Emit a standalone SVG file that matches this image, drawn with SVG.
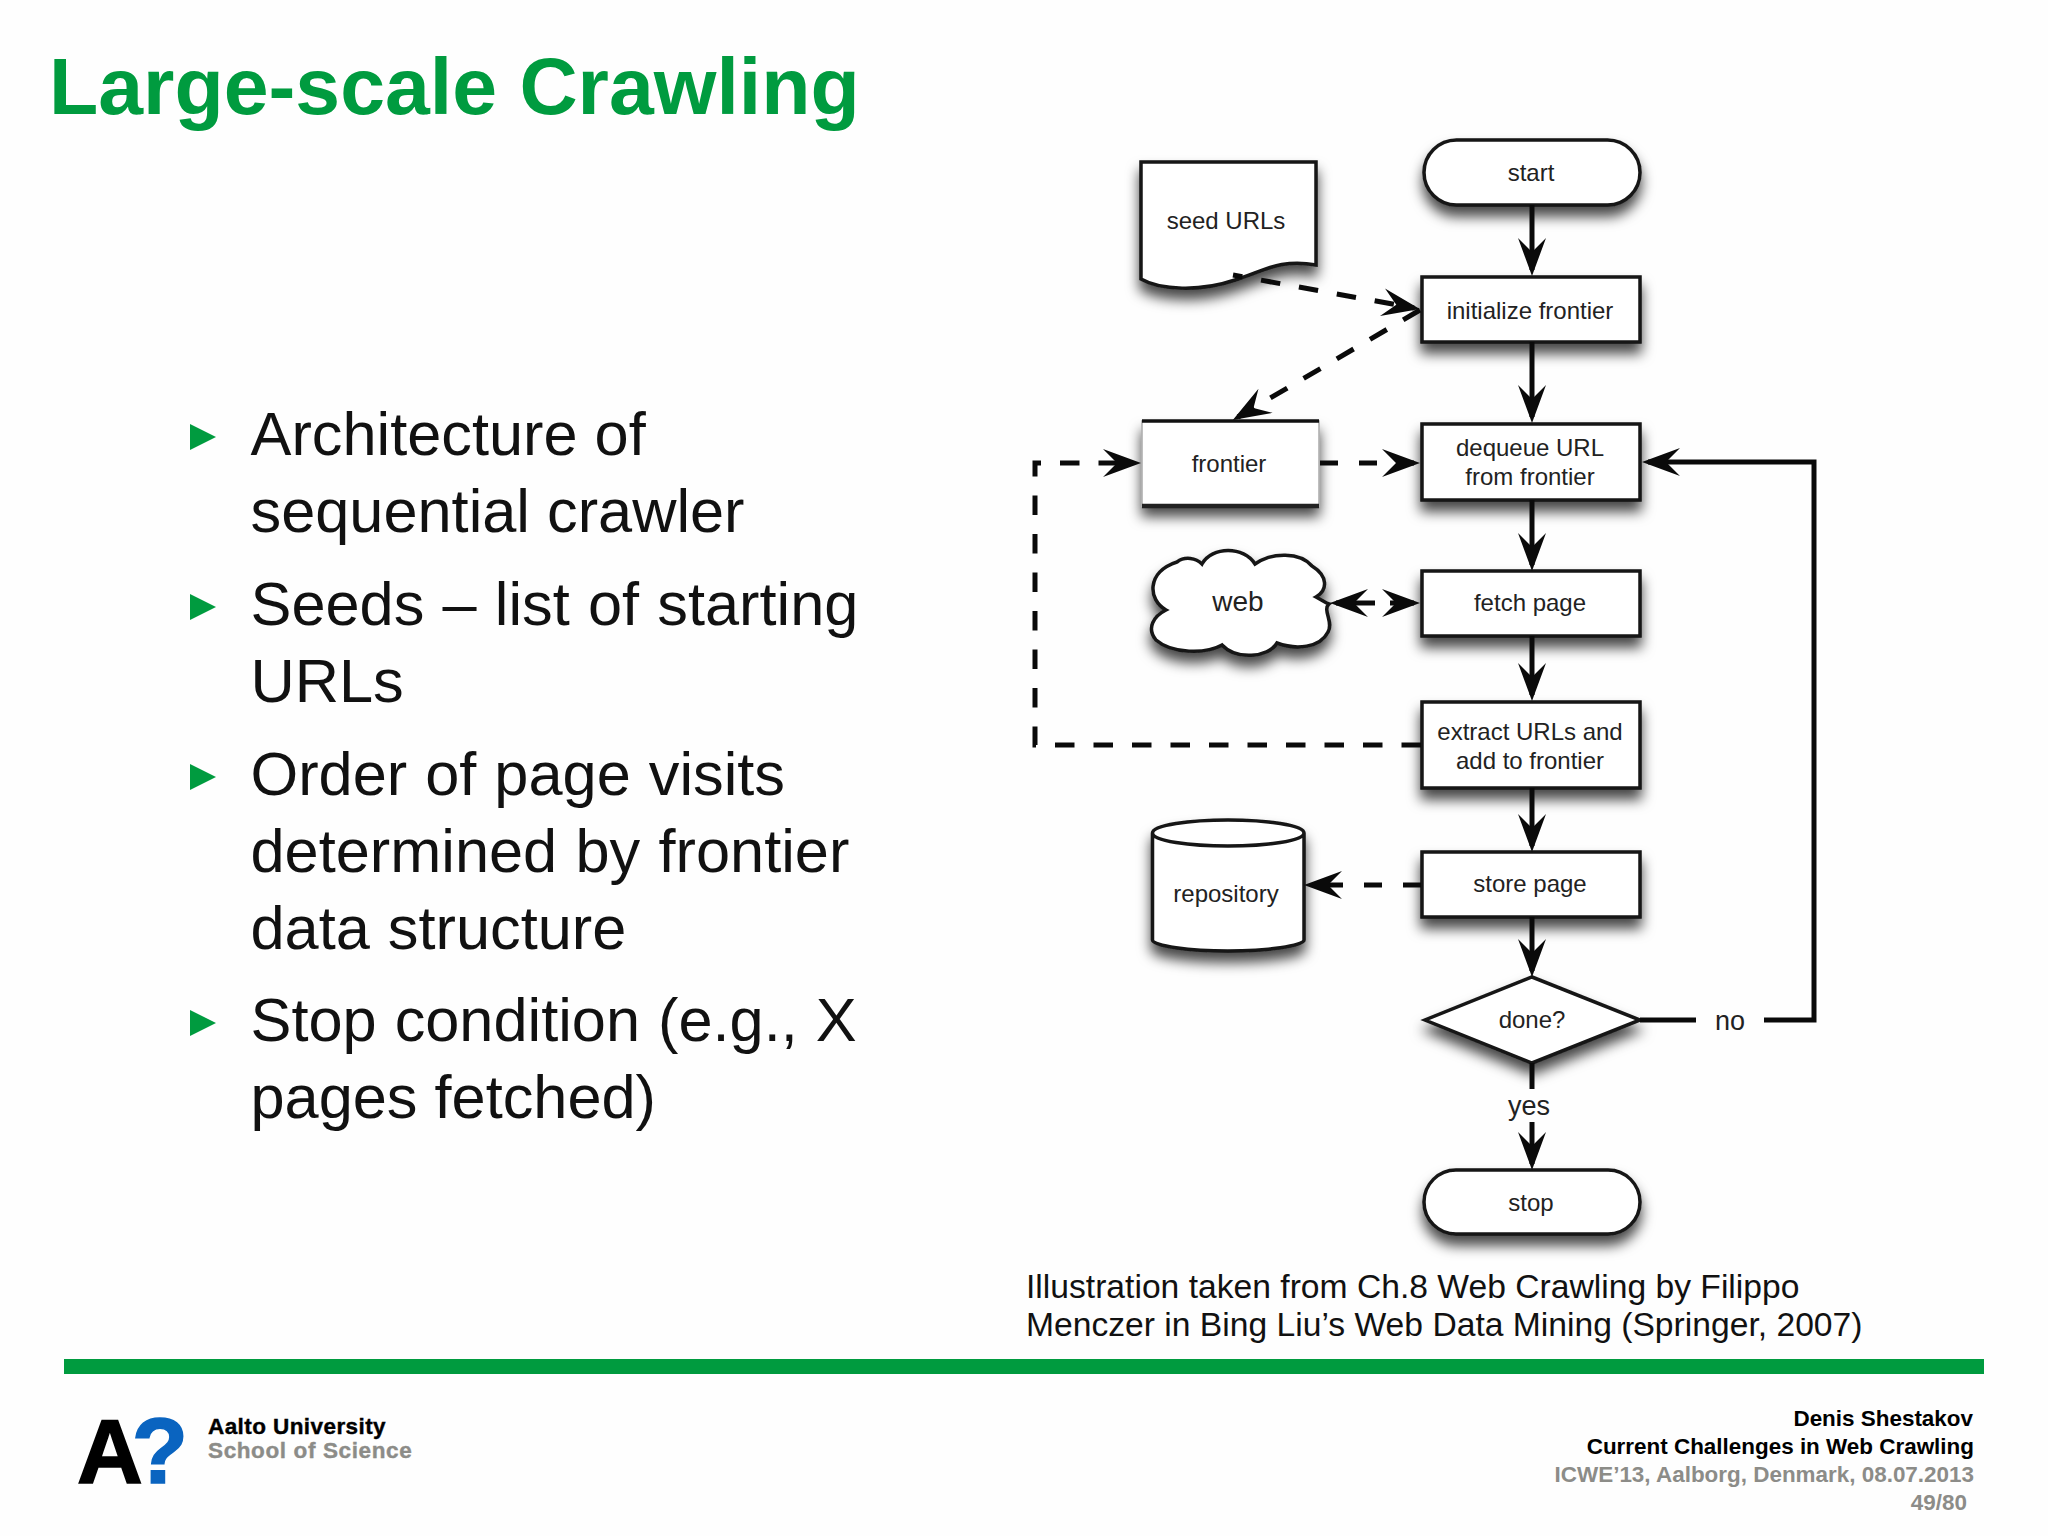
<svg xmlns="http://www.w3.org/2000/svg" width="2048" height="1536" viewBox="0 0 2048 1536">
<style>
text{font-family:"Liberation Sans",Arial,sans-serif}
.title{font-size:80.6px;font-weight:700;fill:#009b3f}
.bul{font-size:61.3px;fill:#111}
.cap{font-size:33.65px;fill:#111}
.nt{font-size:24px;fill:#222;text-anchor:middle}
.ft{font-size:22.45px;font-weight:700;text-anchor:end;fill:#000}
.gr{fill:#8c8c88}
.s{fill:#fff;stroke:#161616;stroke-width:3.5;filter:url(#sh)}
.c{fill:none;stroke:#0a0a0a;stroke-width:5}
.a{marker-end:url(#ah)}
.d1{stroke-dasharray:19.5 19}
.d2{stroke-dasharray:18 21}
.tri{fill:#009b3f}
</style>
<defs>
<filter id="sh" x="-20%" y="-20%" width="140%" height="180%"><feDropShadow dx="0" dy="10" stdDeviation="6.5" flood-color="#000" flood-opacity=".72"/></filter>
<marker id="ah" markerUnits="userSpaceOnUse" viewBox="-36 -15 44 30" markerWidth="44" markerHeight="30" refX="0" refY="0" orient="auto"><path d="M6 0L-32 -14L-18 0L-32 14Z" fill="#0a0a0a"/></marker>
</defs>
<rect width="2048" height="1536" fill="#fefefe"/>
<text class="title" x="49" y="114">Large-scale Crawling</text>
<g id="bullets">
<path class="tri" d="M190 424L216 437L190 450Z"/><path class="tri" d="M190 594L216 607L190 620Z"/><path class="tri" d="M190 764L216 777L190 790Z"/><path class="tri" d="M190 1010L216 1023L190 1036Z"/>
<text class="bul" x="250.5" y="455">Architecture of</text>
<text class="bul" x="250.5" y="532">sequential crawler</text>
<text class="bul" x="250.5" y="625" word-spacing="1.2">Seeds – list of starting</text>
<text class="bul" x="250.5" y="702">URLs</text>
<text class="bul" x="250.5" y="795" word-spacing="1">Order of page visits</text>
<text class="bul" x="250.5" y="872" word-spacing="1.3">determined by frontier</text>
<text class="bul" x="250.5" y="949" word-spacing="1">data structure</text>
<text class="bul" x="250.5" y="1041" word-spacing="1">Stop condition (e.g., X</text>
<text class="bul" x="250.5" y="1118">pages fetched)</text>
</g>
<g id="n-start"><rect class="s" x="1424" y="140" width="216" height="65" rx="32.5"/><text class="nt" x="1531" y="181">start</text></g>
<g id="n-seed"><path class="s" d="M1141 162H1316V265C1280 258 1262 272 1235 280C1200 292 1160 290 1141 279Z"/><text class="nt" x="1226" y="229">seed URLs</text></g>
<g id="n-init"><rect class="s" x="1422" y="277" width="218" height="65"/><text class="nt" x="1530" y="319">initialize frontier</text></g>
<g id="n-frontier"><rect x="1142" y="421" width="177" height="85" fill="#fff" stroke="#aaa" stroke-width="1.5" filter="url(#sh)"/><path d="M1142 421H1319" stroke="#111" stroke-width="3.5"/><path d="M1142 506H1319" stroke="#222" stroke-width="4.5"/><text class="nt" x="1229" y="472">frontier</text></g>
<g id="n-dequeue"><rect class="s" x="1422" y="424" width="218" height="76"/><text class="nt" x="1530" y="456">dequeue URL</text><text class="nt" x="1530" y="485">from frontier</text></g>
<g id="n-web"><path class="s" d="M1166 610C1148 600 1146 572 1177 562C1185 556 1196 558 1202 564C1212 546 1244 546 1255 564C1272 552 1300 552 1312 566C1328 576 1328 590 1316 597C1322 600 1326 603 1329 604C1322 610 1334 622 1328 632C1320 648 1296 650 1277 643C1268 658 1236 660 1222 645C1206 654 1172 654 1156 640C1146 628 1154 616 1166 610Z"/><text class="nt" x="1238" y="611" style="font-size:28px">web</text></g>
<g id="n-fetch"><rect class="s" x="1422" y="571" width="218" height="65"/><text class="nt" x="1530" y="611">fetch page</text></g>
<g id="n-extract"><rect class="s" x="1422" y="702" width="218" height="86"/><text class="nt" x="1530" y="740">extract URLs and</text><text class="nt" x="1530" y="769">add to frontier</text></g>
<g id="n-repo"><path class="s" d="M1152.500 833V940C1152.500 946 1190 951 1228 951C1266 951 1304 946 1304 940V833C1304 825 1266 820 1228 820C1190 820 1152.500 825 1152.500 833C1152.500 841 1190 846 1228 846C1266 846 1304 841 1304 833"/><text class="nt" x="1226" y="902">repository</text></g>
<g id="n-store"><rect class="s" x="1422" y="852" width="218" height="65"/><text class="nt" x="1530" y="892">store page</text></g>
<g id="n-done"><path class="s" d="M1532 977L1640 1020L1532 1063L1425 1020Z"/><text class="nt" x="1532" y="1028">done?</text></g>
<g id="n-stop"><rect class="s" x="1424" y="1170" width="216" height="64" rx="32"/><text class="nt" x="1531" y="1211">stop</text></g>
<g id="connectors">
<path class="c a" d="M1532 205V270"/>
<path class="c a" d="M1532 342V417"/>
<path class="c a" d="M1532 500V565"/>
<path class="c a" d="M1532 636V695"/>
<path class="c a" d="M1532 788V846"/>
<path class="c a" d="M1532 917V971"/>
<path class="c" d="M1532 1063V1089"/>
<path class="c a" d="M1532 1122V1164"/>
<path class="c" d="M1640 1020H1696"/>
<path class="c a" d="M1764 1020H1814V462H1648"/>
<path class="c a d1" stroke-dashoffset="10" d="M1233 275L1414 308"/>
<path class="c a d1" d="M1420 310L1238 417"/>
<path class="c a d2" d="M1320 463H1414"/>
<path class="c a d1" d="M1421 745H1035V463H1135"/>
<path class="c a d2" d="M1421 885H1310"/>
<path class="c a" d="M1375 603H1336"/>
<path class="c a" d="M1390 603H1414"/>
</g>
<text class="nt" x="1730" y="1030" style="font-size:27px">no</text>
<text class="nt" x="1529" y="1115" style="font-size:27px">yes</text>
<text class="cap" x="1026" y="1298">Illustration taken from Ch.8 Web Crawling by Filippo</text>
<text class="cap" x="1026" y="1336">Menczer in Bing Liu’s Web Data Mining (Springer, 2007)</text>
<rect id="rule" x="64" y="1359" width="1920" height="15" fill="#009b3f"/>
<g id="logo">
<text x="77" y="1483" style="font-size:91px;font-weight:700" fill="#000" stroke="#000" stroke-width="1.6"><tspan>A</tspan><tspan dx="-11" style="font-size:92px" fill="#0a64c0" stroke="#0a64c0">?</tspan></text>
<text x="208" y="1434" style="font-size:22.5px;font-weight:700;letter-spacing:.42px" fill="#000" stroke="#000" stroke-width=".4">Aalto University</text>
<text x="208" y="1458" style="font-size:22.5px;font-weight:700;letter-spacing:.62px" fill="#8c8c88" stroke="#8c8c88" stroke-width=".4">School of Science</text>
</g>
<g id="footer">
<text class="ft" x="1973" y="1425.500">Denis Shestakov</text>
<text class="ft" x="1974" y="1454">Current Challenges in Web Crawling</text>
<text class="ft gr" x="1974" y="1481.500">ICWE’13, Aalborg, Denmark, 08.07.2013</text>
<text class="ft gr" x="1967" y="1510">49/80</text>
</g>
</svg>
